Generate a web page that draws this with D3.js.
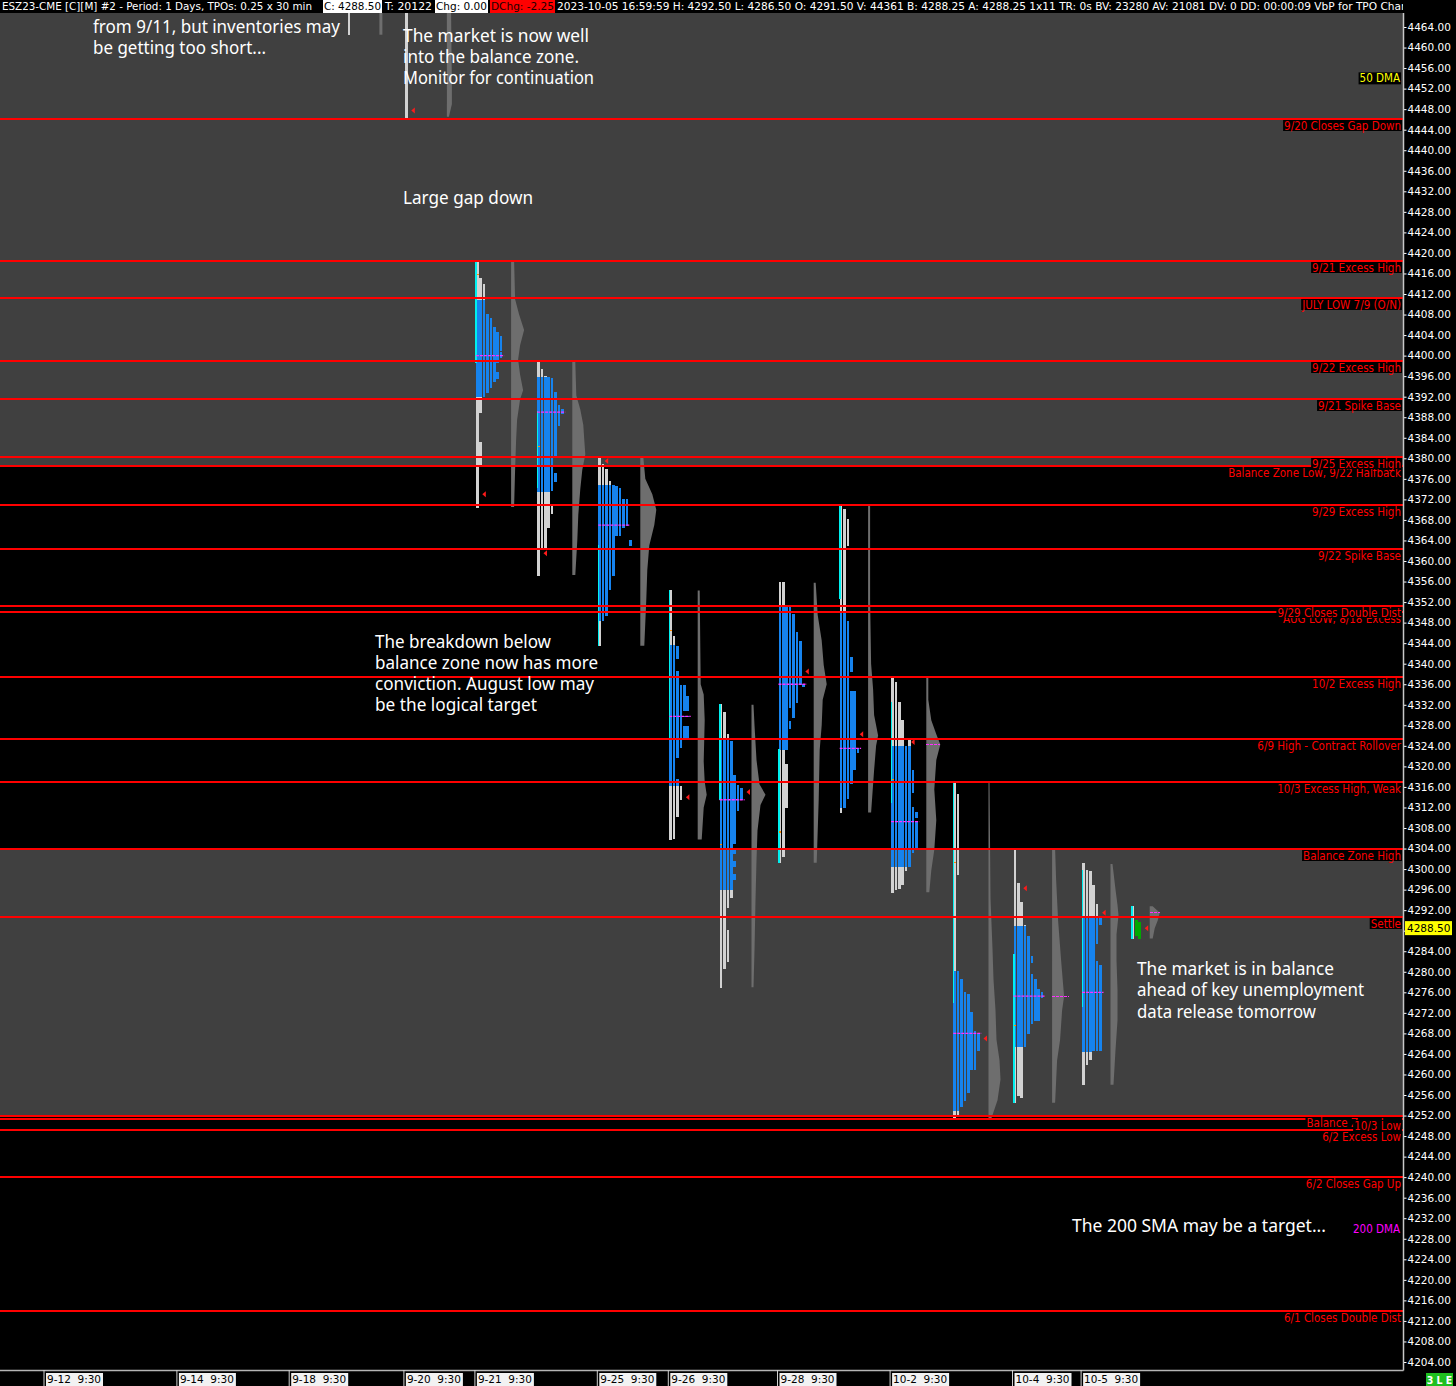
<!DOCTYPE html>
<html>
<head>
<meta charset="utf-8">
<title>ESZ23 TPO profile</title>
<script src="https://cdn.jsdelivr.net/npm/d3@7/dist/d3.min.js"></script>
<style>
  html, body { margin: 0; padding: 0; background: #000; }
  svg { display: block; }
  .cond { font-family: "DejaVu Sans Condensed", "DejaVu Sans", sans-serif; font-stretch: condensed; }
  .note { font-family: "Noto Sans", "Open Sans", sans-serif; fill: #fff; font-size: 18px; }
</style>
</head>
<body>
<svg id="chart" width="1456" height="1386"></svg>
<script>
// ---------- sessions (one daily profile each) ----------
const sessions = ['9-12','9-13','9-14','9-15','9-18','9-19','9-20','9-21','9-22','9-25','9-26','9-27','9-28','9-29','10-2','10-3','10-4','10-5','10-5 PM'];
const axisSessions = ['9-12','9-14','9-18','9-20','9-21','9-25','9-26','9-28','10-2','10-4','10-5'];
const liveSession = '10-5 PM';

// max TPO count per profile and peak of the volume profile
const tpoMax = [8, 8, 6, 6, 6, 7, 10, 8, 8, 10, 6, 7, 8, 6, 8, 8, 9, 6, 3];
const vpPeak = [18, 18.5, 14.5, 15, 16, 12.5, 16, 13, 13, 16, 9, 14, 13, 10, 14, 12, 17, 8, 10];

const valueAreaHigh = [null,null,null,null,null,null,null, 4410.75, 4395.75, 4374.75, 4343.5, 4325, 4351, 4350, 4323.75, 4280, 4288.75, 4290.75, null];
const valueAreaLow  = [null,null,null,null,null,null,null, 4392, 4373.5, 4348.5, 4316.25, 4296, 4323.25, 4312, 4300.5, 4253, 4265.5, 4264.5, null];
const pocPrice      = [null,null,null,null,null,null,null, 4400, 4389, 4367, 4329.75, 4313.5, 4336, 4323.5, 4309.25, 4268, 4275.25, 4276, null];
const ibHigh        = [null,null,null,null,null,null,null, 4418.5, 4389, 4363, 4354.25, 4332, 4323.25, 4371, 4332.5, 4317, 4283.25, 4299.75, 4292.75];
const ibLow         = [null,null,null,null,null,null,null, 4398.75, 4374.25, 4343.5, 4325.75, 4313.5, 4301.25, 4352.75, 4313, 4274, 4254.5, 4273.25, 4286.5];
const openPrice     = [null,null,null,null,null,null,null, 4415.75, 4382.25, null, 4346.5, 4304.75, 4307.25, null, 4317.5, 4301.25, 4269.5, null, null];
const closePrice    = [null,null,null,null,null,null, 4447.75, 4373, 4361.5, 4379.5, 4314, 4315, 4338.5, 4326.25, 4324.75, 4267, 4296.25, 4291.5, 4288.5];
const vpocPrice     = [null,null,null,null,null,null,null,null,null,null,null,null,null,null, 4324.25, null, 4275.25, null, 4291.5];

// ---------- TPO columns: each column lists its [high, low] price runs ----------
const tpo_0919 = [[[4480, 4462.5]]];
const tpo_0920 = [[[4480, 4446]]];
const tpo_0921 = [
  [[4418.5, 4370.5]],
  [[4415, 4389], [4383, 4378.75]],
  [[4413.75, 4392]],
  [[4408, 4392.75]],
  [[4407.25, 4393.75]],
  [[4405.5, 4395]],
  [[4404.5, 4398.75], [4396.75, 4395.5]],
  [[4403.75, 4401], [4400.5, 4399.75]]
];
const tpo_0922 = [
  [[4398.75, 4357.25]],
  [[4397.25, 4362.75]],
  [[4396, 4362.75]],
  [[4395.75, 4366.5]],
  [[4395.5, 4373.75], [4370.5, 4369.25]],
  [[4392.75, 4380.25], [4377, 4375.5]],
  [[4390.25, 4386.5]],
  [[4389.5, 4388.75]]
];
const tpo_0925 = [
  [[4380.25, 4343.5]],
  [[4378.75, 4348.5]],
  [[4377.75, 4349.5]],
  [[4375.5, 4354.5]],
  [[4374.75, 4357.25]],
  [[4374.5, 4365]],
  [[4374, 4365]],
  [[4372, 4366.5]],
  [[4372, 4367]],
  [[4364, 4363]]
];
const tpo_0926 = [
  [[4354.25, 4305.75]],
  [[4345.25, 4306]],
  [[4343.25, 4341], [4338.5, 4321.75], [4317.5, 4310.25]],
  [[4335.75, 4323.75], [4316, 4313.5]],
  [[4335.75, 4331], [4329.75, 4329.75], [4327.75, 4325.75]],
  [[4333.5, 4331], [4329.75, 4329.75], [4327.75, 4325.75]]
];
const tpo_0927 = [
  [[4332, 4277]],
  [[4330.5, 4280.75]],
  [[4326.25, 4292.5], [4288, 4282]],
  [[4324.75, 4294.5]],
  [[4318.25, 4305], [4303.75, 4303], [4301.5, 4300.5], [4299, 4298]],
  [[4316.25, 4311.5]],
  [[4315.75, 4313.5]]
];
const tpo_0928 = [
  [[4355.75, 4301.25]],
  [[4355.75, 4302.5]],
  [[4351, 4323.25], [4320.25, 4312]],
  [[4351, 4331.5], [4328.75, 4327.5]],
  [[4349.5, 4329.5]],
  [[4346, 4332.5]],
  [[4344.25, 4336]],
  [[4336, 4335.5]]
];
const tpo_0929 = [
  [[4371, 4311]],
  [[4370, 4312]],
  [[4368, 4363], [4348.25, 4313.75]],
  [[4341.25, 4338.5], [4334.5, 4316.75]],
  [[4334.5, 4319.5]],
  [[4323.5, 4322.75]]
];
const tpo_1002 = [
  [[4337.5, 4295.5]],
  [[4336.25, 4296]],
  [[4332.5, 4296.25]],
  [[4329, 4297]],
  [[4323.75, 4299.75]],
  [[4325, 4300.5]],
  [[4319.25, 4315], [4312, 4303.25]],
  [[4311, 4310], [4309.25, 4304.25]]
];
const tpo_1003 = [
  [[4317, 4251.25]],
  [[4314.5, 4299], [4280, 4252]],
  [[4278.5, 4253.75]],
  [[4276, 4255]],
  [[4275.5, 4256.5]],
  [[4272, 4261]],
  [[4268.25, 4261]],
  [[4268, 4264.75]]
];
const tpo_1004 = [
  [[4304, 4254.5]],
  [[4297.25, 4256]],
  [[4293.5, 4255.5]],
  [[4289, 4265.5]],
  [[4286.75, 4268]],
  [[4283, 4281.75], [4279.5, 4270]],
  [[4278.5, 4270.5]],
  [[4276.5, 4270.5]],
  [[4276, 4275]]
];
const tpo_1005 = [
  [[4301, 4258]],
  [[4299.75, 4262]],
  [[4299.5, 4263]],
  [[4296.75, 4264.75]],
  [[4293, 4285.5], [4282, 4264.75]],
  [[4290.5, 4289.25], [4281.25, 4264.75]]
];
const tpo_1005pm = [
  [[4292.75, 4286.5]],
  [[4290, 4287]],
  [[4289.5, 4286.5]]
];

// ---------- volume profiles: [price, relative volume] ----------
const vp_0919 = [[4470, 3], [4462.5, 3]];
const vp_0920 = [[4470, 4], [4452, 5], [4449, 5], [4446.5, 2]];
const vp_0921 = [[4418.5,3],[4411,4],[4408,8],[4405,13],[4402,9],[4399.25,7],[4396.25,9],[4393.25,12],[4391.5,9],[4387.5,6],[4383.5,5],[4377.75,4],[4370.5,3]];
const vp_0922 = [[4398.75,3],[4392.25,4],[4389.5,8],[4386.5,11],[4383.5,12],[4380.75,13],[4377.75,10],[4374,8],[4369,6],[4364,5],[4357.25,3]];
const vp_0925 = [[4380.25,3],[4376,5],[4373,12],[4370,16],[4367,14],[4363,9],[4358.25,7],[4352.5,6],[4343.5,4]];
const vp_0926 = [[4354.25,2],[4336,3],[4334,6],[4329,7],[4321,6],[4317,7],[4314.5,9],[4312,6],[4305.75,4]];
const vp_0927 = [[4332,2],[4328,3],[4321.25,5],[4316.5,8],[4314.5,14],[4312.5,9],[4307.5,6],[4301.75,5],[4294,4],[4284.25,3],[4277,2]];
const vp_0928 = [[4355.75,2],[4349.5,4],[4344.5,8],[4339.75,10],[4336,13],[4333,9],[4328,8],[4323.25,6],[4313.5,5],[4301.25,3]];
const vp_0929 = [[4371,2],[4352.5,2],[4340,3],[4335,5],[4330,6],[4326,10],[4324,8],[4319.25,6],[4311,3]];
const vp_1002 = [[4337.5,2],[4333,2],[4329,5],[4326.25,10],[4324.25,14],[4321.25,10],[4315.5,8],[4309.5,10],[4303.75,8],[4299.75,5],[4295.5,3]];
const vp_1003 = [[4317,1],[4294.25,2],[4284.5,4],[4278.5,5],[4272.5,7],[4266.75,8],[4262.75,11],[4259,12],[4255,9],[4251.5,3]];
const vp_1004 = [[4304,3],[4298,4],[4290,6],[4282.25,9],[4277.5,11],[4275.25,12],[4272.5,10],[4266.75,8],[4262.75,5],[4254.5,3]];
const vp_1005 = [[4301,2],[4296,5],[4293,7],[4291,8],[4287.25,6],[4282.25,6],[4276.5,7],[4270.5,7],[4264.75,5],[4258,3]];
const vp_1005pm = [[4292.75,3],[4291.5,10],[4290,8],[4288.5,5],[4286.5,3]];

const tpoBySession = [null,null,null,null,null, tpo_0919, tpo_0920, tpo_0921, tpo_0922, tpo_0925, tpo_0926, tpo_0927, tpo_0928, tpo_0929, tpo_1002, tpo_1003, tpo_1004, tpo_1005, tpo_1005pm];
const vpBySession  = [null,null,null,null,null, vp_0919, vp_0920, vp_0921, vp_0922, vp_0925, vp_0926, vp_0927, vp_0928, vp_0929, vp_1002, vp_1003, vp_1004, vp_1005, vp_1005pm];

// ---------- reference levels (drawn in this order, later labels on top) ----------
const levelPrices = [4446, 4418.5, 4411.25, 4399, 4391.5, 4378.5, 4380.25, 4371, 4362.25, 4350, 4351.25, 4337.5, 4325.25, 4317, 4304, 4290.75, 4252, 4251.25, 4249.25, 4240, 4214];
const levelLabels = ['9/20 Closes Gap Down', '9/21 Excess High', 'JULY LOW 7/9 (O/N)', '9/22 Excess High', '9/21 Spike Base',
  'Balance Zone Low, 9/22 Halfback', '9/25 Excess High', '9/29 Excess High', '9/22 Spike Base', 'AUG LOW, 8/18 Excess',
  '9/29 Closes Double Dist', '10/2 Excess High', '6/9 High - Contract Rollover', '10/3 Excess High, Weak', 'Balance Zone High',
  'Settle', 'Balance Zone Low', '10/3 Low', '6/2 Excess Low', '6/2 Closes Gap Up', '6/1 Closes Double Dist'];
const balanceZoneLow  = [4378.5, 4252];
const balanceZoneHigh = [4500, 4304];
const maPrices = [4454, 4230];
const maLabels = ['50 DMA', '200 DMA'];
const lastPrice = 4288.5;

const priceTicks = d3.range(4204, 4464.01, 4);

const noteText = [
  ['from 9/11, but inventories may', 'be getting too short...'],
  ['The market is now well', 'into the balance zone.', 'Monitor for continuation'],
  ['Large gap down'],
  ['The breakdown below', 'balance zone now has more', 'conviction. August low may', 'be the logical target'],
  ['The market is in balance', 'ahead of key unemployment', 'data release tomorrow'],
  ['The 200 SMA may be a target...']
];

const headerText = 'ESZ23-CME [C][M] #2 - Period: 1 Days, TPOs: 0.25 x 30 min';
const quoteText = '2023-10-05 16:59:59 H: 4292.50 L: 4286.50 O: 4291.50 V: 44361 B: 4288.25 A: 4288.25 1x11 TR: 0s BV: 23280 AV: 21081 DV: 0 DD: 00:00:09 VbP for TPO Chart';

// ---------- layout ----------
const W = 1456, H = 1386;
const plotRight = 1403, plotTop = 13, plotBottom = 1370;
const PITCH = 3.4, COLW = 2.6, VP_GAP = 8, SESSION_GAP = 13, FIRST_X = 45;
const LABEL_FONT = 11.5;

const C = {
  zone: '#404040', va: '#1683EE', out: '#D2D2D2', ib: '#00F0F0', poc: '#FF30FF',
  vp: '#6E6E6E', live: '#00A800', level: '#FF0000', open: '#FF8C00'
};

const y = d3.scaleLinear().domain([4204, 4464]).range([1362, 27]);
const vol = d3.scaleLinear().domain([0, 10]).range([0, 10]);
const halfTick = Math.abs(y(4204.25) - y(4204)) / 2;

const starts = [];
sessions.reduce((acc, s, i) => {
  starts.push(acc);
  return acc + tpoMax[i] * PITCH + VP_GAP + vol(vpPeak[i]) + SESSION_GAP;
}, FIRST_X);
const x = d3.scaleOrdinal().domain(sessions).range(starts);

const svg = d3.select('#chart');
svg.append('rect').attr('width', W).attr('height', H).attr('fill', '#000');

svg.append('clipPath').attr('id', 'plotClip')
  .append('rect').attr('x', 0).attr('y', plotTop).attr('width', plotRight).attr('height', plotBottom - plotTop);

const plot = svg.append('g').attr('clip-path', 'url(#plotClip)');

// balance zones
plot.append('g').selectAll('rect').data(balanceZoneLow).join('rect')
  .attr('x', 0).attr('width', plotRight)
  .attr('y', (d, i) => y(balanceZoneHigh[i]))
  .attr('height', (d, i) => y(d) - y(balanceZoneHigh[i]))
  .attr('fill', C.zone);

// ---------- profiles ----------
const countAt = (cols, p) => cols.filter(runs => runs.some(([h, l]) => p <= h + 1e-9 && p >= l - 1e-9)).length;
const profiles = plot.append('g').attr('shape-rendering', 'crispEdges');

sessions.forEach((s, i) => {
  const cols = tpoBySession[i];
  const x0 = x(s);
  const g = profiles.append('g');
  const vah = valueAreaHigh[i], val = valueAreaLow[i];
  if (cols) {
    cols.forEach((runs, k) => {
      runs.forEach(([hi, lo]) => {
        const parts = [];
        if (s === liveSession && k > 0) parts.push([hi, lo, C.live]);
        else if (vah == null) parts.push([hi, lo, C.out]);
        else {
          if (hi > vah) parts.push([hi, Math.max(lo, vah + 0.25), C.out]);
          const a = Math.min(hi, vah), b = Math.max(lo, val);
          if (a >= b) parts.push([a, b, C.va]);
          if (lo < val) parts.push([Math.min(hi, val - 0.25), lo, C.out]);
        }
        parts.forEach(([h, l, col]) => {
          if (h < l) return;
          g.append('rect')
            .attr('x', x0 + k * PITCH).attr('width', COLW)
            .attr('y', y(h) - halfTick).attr('height', y(l) - y(h) + 2 * halfTick)
            .attr('fill', col);
        });
      });
    });
    // initial balance stripe
    if (ibHigh[i] != null) {
      g.append('rect').attr('x', x0 - 0.6).attr('width', 1.6)
        .attr('y', y(ibHigh[i]) - halfTick).attr('height', y(ibLow[i]) - y(ibHigh[i]) + 2 * halfTick)
        .attr('fill', C.ib);
    }
    // opening print
    if (openPrice[i] != null) {
      g.append('rect').attr('x', x0 + 0.6).attr('width', 2).attr('y', y(openPrice[i]) - 0.7).attr('height', 1.4).attr('fill', C.open);
    }
    // point of control
    if (pocPrice[i] != null) {
      const n = countAt(cols, pocPrice[i]);
      g.append('line').attr('x1', x0).attr('x2', x0 + n * PITCH + 1)
        .attr('y1', y(pocPrice[i])).attr('y2', y(pocPrice[i]))
        .attr('stroke', C.poc).attr('stroke-width', 1.3).attr('stroke-dasharray', '3,1')
        .attr('shape-rendering', 'auto');
    }
  }
  // volume profile
  const vp = vpBySession[i];
  if (vp) {
    const xv = x0 + tpoMax[i] * PITCH + VP_GAP;
    const area = d3.area().y(d => y(d[0])).x0(xv).x1(d => xv + vol(d[1]));
    g.append('path').datum(vp).attr('d', area).attr('fill', C.vp).attr('shape-rendering', 'auto');
    if (vpocPrice[i] != null) {
      g.append('line').attr('x1', xv).attr('x2', xv + vol(vpPeak[i]))
        .attr('y1', y(vpocPrice[i])).attr('y2', y(vpocPrice[i]))
        .attr('stroke', C.poc).attr('stroke-width', 1.3).attr('stroke-dasharray', '3,1');
    }
  }
  // closing marker
  if (closePrice[i] != null && cols) {
    const n = countAt(cols, closePrice[i]);
    const tx = x0 + n * PITCH + 3, ty = y(closePrice[i]);
    g.append('path').attr('d', `M${tx},${ty}L${tx + 3.5},${ty - 3}L${tx + 3.5},${ty + 3}Z`)
      .attr('fill', '#FF1A1A').attr('shape-rendering', 'auto');
  }
});

// ---------- reference level lines ----------
plot.append('g').attr('shape-rendering', 'crispEdges').selectAll('line').data(levelPrices).join('line')
  .attr('x1', 0).attr('x2', plotRight)
  .attr('y1', d => Math.round(y(d))).attr('y2', d => Math.round(y(d)))
  .attr('stroke', C.level).attr('stroke-width', 2);

// ---------- annotations ----------
const notePos = [
  {x: 93, y: 32.5, w: [247, 173]},
  {x: 403, y: 41.5, w: [186, 176, 191]},
  {x: 403, y: 204, w: [130]},
  {x: 375, y: 647.5, w: [176, 223, 219, 162]},
  {x: 1137, y: 975, w: [197, 227, 179]},
  {x: 1072, y: 1232, w: [254]}
];
const notes = plot.append('g');
noteText.forEach((lines, i) => {
  const p = notePos[i];
  lines.forEach((t, j) => {
    notes.append('text').attr('class', 'note')
      .attr('x', p.x).attr('y', p.y + j * 21.3)
      .attr('textLength', p.w[j]).attr('lengthAdjust', 'spacingAndGlyphs')
      .text(t);
  });
});

// ---------- level labels ----------
const labelLayer = plot.append('g').attr('class', 'cond');
levelPrices.forEach((p, i) => {
  const ly = Math.round(y(p));
  const g = labelLayer.append('g');
  const box = g.append('rect').attr('fill', '#000');
  const t = g.append('text').attr('x', plotRight - 2).attr('y', ly + 10.5)
    .attr('text-anchor', 'end').attr('font-size', LABEL_FONT).attr('fill', C.level).text(levelLabels[i]);
  const w = t.node().getComputedTextLength();
  box.attr('x', plotRight - 2 - w - 1).attr('y', ly + 1).attr('width', w + 2).attr('height', 11);
});

// moving-average tags
const maColors = ['#FFFF00', '#FF00FF'];
maPrices.forEach((p, i) => {
  const g = labelLayer.append('g');
  const box = g.append('rect').attr('fill', '#000');
  const t = g.append('text').attr('x', plotRight - 3).attr('y', y(p) + 4)
    .attr('text-anchor', 'end').attr('font-size', LABEL_FONT).attr('fill', maColors[i]).text(maLabels[i]);
  const w = t.node().getComputedTextLength();
  box.attr('x', plotRight - 3 - w - 1).attr('y', y(p) - 6).attr('width', w + 2).attr('height', 12);
});

// ---------- price axis ----------
const yAxis = d3.axisRight(y).tickValues(priceTicks).tickFormat(d3.format('.2f')).tickSize(3).tickPadding(1);
const ya = svg.append('g').attr('transform', `translate(${plotRight + 0.5},0)`).call(yAxis);
ya.select('.domain').remove();
ya.attr('font-family', '"DejaVu Sans", sans-serif').attr('font-size', 10.5);
ya.selectAll('line').attr('stroke', '#fff');
ya.selectAll('text').attr('fill', '#fff');
svg.append('line').attr('x1', plotRight + 0.5).attr('x2', plotRight + 0.5).attr('y1', plotTop).attr('y2', plotBottom + 0.5)
  .attr('stroke', '#C8C8C8').attr('stroke-width', 1.5);

// last price tag
const lp = svg.append('g').attr('font-family', '"DejaVu Sans", sans-serif');
lp.append('rect').attr('x', plotRight + 2).attr('y', y(lastPrice) - 7).attr('width', 47).attr('height', 14).attr('fill', '#FFFF00');
lp.append('text').attr('x', plotRight + 4).attr('y', y(lastPrice) + 4).attr('font-size', 10.5).attr('fill', '#000').text(d3.format('.2f')(lastPrice));

// ---------- session axis ----------
svg.append('line').attr('x1', 0).attr('x2', plotRight + 0.5).attr('y1', plotBottom + 0.5).attr('y2', plotBottom + 0.5)
  .attr('stroke', '#B4B4B4').attr('stroke-width', 1.5);
const xAxis = d3.axisBottom(x).tickValues(axisSessions).tickSize(16).tickFormat(d => `${d}  9:30`);
const xa = svg.append('g').attr('transform', `translate(-1.5,${plotBottom})`).call(xAxis);
xa.select('.domain').remove();
xa.selectAll('line').attr('stroke', '#D0D0D0');
xa.selectAll('.tick').each(function () {
  const tk = d3.select(this);
  tk.insert('rect', 'text').attr('x', 2).attr('y', 3).attr('width', 57).attr('height', 13).attr('fill', '#F2F2F2');
  tk.select('text').attr('x', 3).attr('y', 13).attr('dy', null).attr('text-anchor', 'start')
    .attr('fill', '#000').attr('font-size', 10).attr('class', 'cond')
    .attr('textLength', 54).attr('lengthAdjust', 'spacingAndGlyphs')
    .style('white-space', 'pre');
});

// status badge
const badge = svg.append('g').attr('class', 'cond');
badge.append('rect').attr('x', 1426).attr('y', 1373).attr('width', 27).attr('height', 13).attr('fill', '#1FBF1F');
badge.append('text').attr('x', 1439.5).attr('y', 1384).attr('text-anchor', 'middle').attr('font-size', 10.5)
  .attr('font-weight', 'bold').attr('fill', '#fff').style('white-space', 'pre').text('3 L E');

// ---------- header ----------
const header = svg.append('g').attr('class', 'cond');
header.append('rect').attr('x', 0).attr('y', 0).attr('width', W).attr('height', plotTop).attr('fill', '#000');
header.append('clipPath').attr('id', 'hdrClip').append('rect').attr('width', plotRight).attr('height', plotTop);
const hg = header.append('g').attr('clip-path', 'url(#hdrClip)').attr('font-size', 10.5);
const segs = [
  {t: headerText, x: 2, w: 310, bg: null, fg: '#fff'},
  {t: 'C: 4288.50', x: 324, w: 57, bg: '#fff', fg: '#000'},
  {t: 'T: 20122', x: 385, w: 47, bg: null, fg: '#fff'},
  {t: 'Chg: 0.00', x: 436, w: 51, bg: '#fff', fg: '#000'},
  {t: 'DChg: -2.25', x: 491, w: 63, bg: '#FF0000', fg: '#1a0000'}
];
segs.forEach(s => {
  if (s.bg) hg.append('rect').attr('x', s.x - 1).attr('y', 0).attr('width', s.w + 2).attr('height', 13).attr('fill', s.bg);
  hg.append('text').attr('x', s.x).attr('y', 10).attr('fill', s.fg)
    .attr('textLength', s.w).attr('lengthAdjust', 'spacingAndGlyphs').text(s.t);
});
const q = hg.append('text').attr('x', 557).attr('y', 10).attr('fill', '#fff').text(quoteText);
const full = q.node().getComputedTextLength();
const visibleChars = quoteText.length - 2;
const prefix = q.node().getSubStringLength(0, visibleChars);
q.attr('textLength', full * (844 / prefix)).attr('lengthAdjust', 'spacingAndGlyphs');
</script>
</body>
</html>
